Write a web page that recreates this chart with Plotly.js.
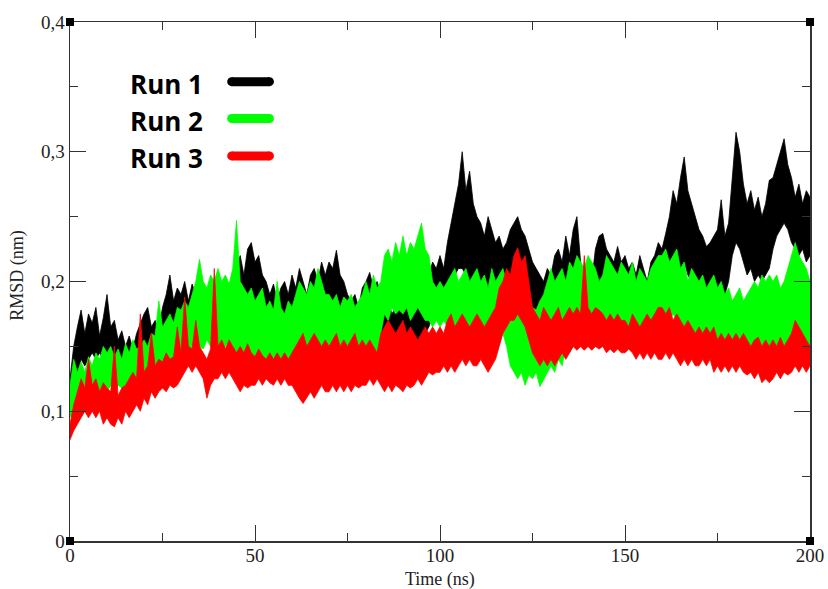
<!DOCTYPE html>
<html>
<head>
<meta charset="utf-8">
<script src="https://cdn.plot.ly/plotly-3.0.1.min.js"></script>
<style>html,body{margin:0;padding:0;background:#fff;}#chart{width:828px;height:589px;}</style>
</head>
<body>
<div id="chart"></div>
<script>
// Envelope values (upper / lower edge of each noisy RMSD band), one sample per ns, 0..200 ns
const run1Hi = [
.125,.15,.165,.178,.16,.175,.168,.18,.158,.172,
.19,.165,.17,.155,.162,.15,.158,.148,.16,.168,
.175,.18,.165,.17,.162,.18,.19,.205,.185,.195,
.19,.2,.185,.198,.19,.2,.185,.195,.18,.19,
.185,.195,.18,.19,.2,.21,.22,.205,.225,.23,
.215,.22,.205,.2,.19,.198,.185,.195,.2,.19,
.205,.195,.21,.2,.19,.205,.21,.2,.215,.205,
.215,.21,.224,.205,.2,.19,.185,.19,.18,.195,
.2,.207,.195,.2,.19,.18,.185,.175,.18,.185,
.18,.185,.19,.18,.195,.19,.2,.205,.215,.21,
.22,.21,.23,.245,.26,.275,.3,.27,.285,.26,
.25,.245,.235,.25,.24,.23,.235,.225,.23,.24,
.245,.25,.24,.235,.225,.215,.21,.205,.2,.21,
.205,.22,.225,.215,.235,.22,.24,.25,.215,.205,
.21,.2,.225,.235,.237,.225,.22,.215,.227,.215,
.22,.21,.215,.205,.22,.21,.2,.215,.22,.23,
.225,.237,.25,.27,.26,.28,.296,.27,.26,.25,
.24,.235,.227,.23,.235,.24,.263,.235,.245,.28,
.315,.3,.275,.26,.27,.255,.265,.25,.26,.278,
.28,.29,.3,.31,.29,.28,.265,.275,.26,.27,.265];
const run1Lo = [
.1,.11,.13,.14,.135,.14,.145,.14,.145,.14,
.14,.145,.14,.135,.13,.135,.13,.14,.14,.145,
.145,.15,.145,.14,.145,.15,.155,.16,.155,.16,
.16,.165,.16,.155,.16,.165,.16,.165,.16,.165,
.16,.165,.17,.165,.17,.175,.17,.18,.175,.17,
.165,.17,.165,.16,.165,.16,.165,.17,.165,.17,
.165,.17,.165,.16,.165,.17,.165,.16,.165,.17,
.17,.175,.17,.165,.16,.165,.16,.155,.16,.165,
.16,.165,.16,.155,.15,.15,.145,.15,.145,.15,
.15,.145,.15,.155,.15,.155,.16,.165,.175,.18,
.185,.19,.195,.2,.205,.21,.21,.205,.2,.2,
.195,.195,.19,.195,.19,.185,.19,.185,.19,.195,
.2,.195,.19,.185,.18,.175,.17,.17,.165,.17,
.17,.175,.18,.175,.185,.18,.19,.185,.18,.175,
.175,.17,.18,.185,.185,.18,.175,.175,.18,.175,
.175,.17,.175,.17,.175,.17,.165,.17,.175,.18,
.185,.19,.2,.205,.21,.21,.215,.205,.2,.195,
.19,.185,.185,.18,.185,.19,.195,.19,.2,.22,
.23,.225,.215,.205,.21,.2,.205,.2,.205,.21,
.225,.235,.24,.245,.24,.23,.225,.22,.225,.215,.22];
const run2Hi = [
.12,.14,.13,.138,.13,.142,.135,.145,.14,.15,
.145,.15,.142,.148,.14,.152,.145,.155,.148,.15,
.155,.15,.16,.158,.185,.165,.17,.175,.168,.18,
.178,.185,.18,.19,.2,.217,.2,.195,.205,.2,
.21,.2,.205,.198,.21,.247,.2,.195,.19,.195,
.185,.19,.195,.18,.185,.178,.2,.18,.175,.185,
.18,.19,.2,.195,.19,.2,.195,.21,.2,.19,
.19,.185,.19,.18,.188,.185,.19,.18,.185,.19,
.2,.19,.205,.195,.2,.22,.225,.215,.23,.22,
.235,.22,.23,.225,.235,.245,.225,.22,.2,.195,
.2,.195,.2,.205,.21,.2,.205,.21,.2,.205,
.21,.2,.205,.195,.21,.2,.205,.21,.2,.19,
.18,.175,.18,.17,.175,.18,.178,.185,.19,.2,
.21,.2,.205,.21,.2,.215,.21,.22,.215,.21,
.22,.215,.21,.2,.205,.22,.215,.21,.205,.215,
.21,.205,.215,.2,.21,.205,.2,.21,.215,.22,
.22,.225,.215,.22,.225,.21,.215,.2,.21,.205,
.2,.205,.195,.2,.205,.195,.2,.19,.195,.185,
.19,.195,.185,.19,.195,.2,.195,.205,.2,.205,
.2,.205,.195,.2,.21,.22,.23,.22,.215,.21,.2];
const run2Lo = [
.095,.1,.105,.11,.105,.11,.115,.11,.115,.11,
.115,.12,.115,.12,.118,.12,.125,.12,.125,.13,
.125,.13,.128,.13,.132,.135,.13,.135,.14,.138,
.14,.145,.14,.15,.145,.15,.148,.155,.15,.145,
.15,.145,.15,.155,.15,.14,.145,.14,.145,.14,
.135,.14,.138,.135,.14,.13,.135,.14,.135,.138,
.14,.145,.15,.145,.15,.145,.14,.145,.15,.148,
.15,.148,.152,.15,.155,.15,.148,.152,.15,.14,
.13,.135,.13,.14,.16,.175,.17,.18,.175,.178,
.175,.18,.17,.175,.18,.175,.17,.17,.165,.17,
.165,.17,.165,.16,.165,.16,.165,.17,.165,.16,
.165,.16,.165,.16,.165,.16,.155,.16,.15,.135,
.13,.125,.13,.12,.128,.125,.13,.119,.125,.13,
.135,.13,.14,.135,.15,.145,.15,.155,.16,.155,
.16,.155,.16,.165,.16,.165,.16,.165,.16,.165,
.16,.165,.16,.165,.16,.165,.16,.165,.17,.165,
.17,.175,.17,.175,.17,.165,.16,.155,.16,.155,
.15,.155,.15,.155,.15,.148,.15,.145,.15,.145,
.148,.145,.15,.145,.148,.15,.155,.15,.155,.15,
.155,.15,.148,.15,.145,.14,.135,.14,.135,.14,.145];
const run3Hi = [
.09,.105,.115,.125,.118,.14,.12,.125,.115,.122,
.118,.115,.15,.112,.118,.12,.125,.13,.125,.175,
.13,.135,.16,.135,.14,.138,.145,.14,.142,.165,
.145,.188,.15,.148,.17,.15,.145,.14,.148,.21,
.15,.155,.148,.155,.15,.145,.15,.145,.152,.145,
.142,.148,.143,.14,.145,.14,.145,.14,.145,.14,
.145,.15,.155,.16,.15,.155,.16,.155,.15,.155,
.15,.155,.16,.15,.155,.15,.155,.16,.15,.155,
.15,.155,.15,.145,.16,.165,.17,.165,.16,.165,
.17,.16,.165,.16,.155,.16,.165,.16,.165,.16,
.165,.16,.17,.175,.165,.17,.175,.17,.165,.17,
.175,.17,.165,.17,.175,.18,.195,.2,.21,.205,
.22,.226,.215,.22,.2,.18,.175,.17,.18,.175,
.17,.175,.18,.17,.175,.18,.175,.18,.175,.22,
.18,.175,.18,.178,.175,.17,.175,.17,.175,.17,
.17,.165,.175,.17,.165,.17,.175,.17,.175,.18,
.18,.175,.18,.17,.175,.17,.165,.17,.165,.16,
.165,.16,.165,.16,.165,.155,.16,.155,.16,.155,
.16,.155,.16,.155,.15,.155,.157,.15,.155,.15,
.155,.15,.157,.15,.155,.16,.17,.165,.16,.155,.15];
const run3Lo = [
.078,.085,.09,.095,.1,.095,.1,.095,.1,.09,
.095,.09,.088,.095,.09,.1,.095,.1,.105,.1,
.11,.105,.115,.11,.115,.118,.115,.12,.118,.12,
.125,.13,.135,.13,.135,.13,.125,.11,.12,.125,
.125,.13,.125,.13,.125,.12,.115,.12,.118,.12,
.12,.125,.12,.125,.122,.12,.125,.12,.125,.12,
.12,.115,.11,.106,.11,.115,.11,.115,.12,.115,
.115,.12,.115,.12,.115,.12,.115,.12,.118,.12,
.12,.125,.12,.125,.12,.115,.12,.115,.12,.118,
.115,.12,.118,.12,.125,.12,.125,.13,.128,.13,
.13,.135,.13,.135,.13,.135,.14,.135,.14,.135,
.135,.14,.135,.13,.135,.14,.15,.16,.165,.17,
.17,.175,.17,.165,.155,.145,.14,.135,.14,.135,
.14,.135,.14,.145,.14,.145,.15,.147,.15,.147,
.15,.147,.15,.148,.15,.145,.148,.145,.148,.145,
.145,.148,.145,.14,.145,.14,.145,.14,.145,.14,
.14,.145,.14,.145,.14,.135,.14,.135,.14,.135,
.135,.14,.135,.14,.13,.135,.13,.135,.13,.135,
.13,.135,.13,.128,.13,.125,.13,.122,.125,.122,
.125,.13,.125,.13,.128,.13,.135,.13,.135,.13,.135];

const seriesNames = ['Run 1', 'Run 2', 'Run 3'];
const seriesColors = ['#000000', '#00ff00', '#ff0000'];
const yTickVals = [0, 0.1, 0.2, 0.3, 0.4];
const xTickVals = [0, 50, 100, 150, 200];

const time = run1Hi.map((_, i) => i); // ns, one sample per ns

function band(hi, lo, name, color) {
  const x = time.concat(time.slice().reverse());
  const y = hi.concat(lo.slice().reverse());
  return {
    x: x, y: y, name: name, type: 'scatter', mode: 'lines',
    fill: 'toself', fillcolor: color,
    line: {color: color, width: 0.8},
    hoverinfo: 'skip', showlegend: false
  };
}

const data = [
  band(run1Hi, run1Lo, seriesNames[0], seriesColors[0]),
  band(run2Hi, run2Lo, seriesNames[1], seriesColors[1]),
  band(run3Hi, run3Lo, seriesNames[2], seriesColors[2])
];

const axisCol = '#333';
const serif = 'Liberation Serif, Times New Roman, serif';
const tickFont = {family: serif, size: 19, color: '#222'};

// Legend drawn as text + rounded swatches (text left, swatch right like the reference)
const legendY = [0.881, 0.81, 0.738];
const annotations = seriesNames.map((n, i) => ({
  xref: 'paper', yref: 'paper', x: 0.078, y: legendY[i], xanchor: 'left', yanchor: 'middle',
  text: '<b>' + n + '</b>', showarrow: false,
  font: {family: 'Open Sans, Noto Sans, sans-serif', size: 26, color: '#000'}
}));
annotations.push({xref: 'paper', yref: 'paper', x: 0.5, y: -0.0735, xanchor: 'center', yanchor: 'middle',
  text: 'Time (ns)', showarrow: false, font: {family: serif, size: 18, color: '#222'}});
annotations.push({xref: 'paper', yref: 'paper', x: -0.071, y: 0.512, xanchor: 'center', yanchor: 'middle',
  textangle: -90, text: 'RMSD (nm)', showarrow: false, font: {family: serif, size: 18, color: '#222'}});

const shapes = [];
seriesColors.forEach((c, i) => {
  const yy = legendY[i] + 0.004;
  shapes.push({type: 'line', xref: 'paper', yref: 'paper', x0: 0.2185, x1: 0.2695, y0: yy, y1: yy,
    line: {color: c, width: 9}});
  [0.2185, 0.2695].forEach(xc => shapes.push({type: 'circle', xref: 'paper', yref: 'paper',
    xsizemode: 'pixel', ysizemode: 'pixel', xanchor: xc, yanchor: yy,
    x0: -4.5, x1: 4.5, y0: -4.5, y1: 4.5, fillcolor: c, line: {width: 0}}));
});
// corner markers
[[0, 0], [1, 0], [0, 1], [1, 1]].forEach(p => shapes.push({type: 'rect', xref: 'paper', yref: 'paper',
  xsizemode: 'pixel', ysizemode: 'pixel', xanchor: p[0], yanchor: p[1],
  x0: -4, x1: 4, y0: -4, y1: 4, fillcolor: '#000', line: {width: 0}}));

const layout = {
  width: 828, height: 589,
  margin: {l: 70, r: 18, t: 22, b: 48},
  paper_bgcolor: '#fff', plot_bgcolor: '#fff',
  separators: ',.',
  showlegend: false,
  xaxis: {
    range: [0, 200], tickvals: xTickVals, ticks: 'inside', ticklen: 16, tickwidth: 1, tickcolor: axisCol,
    minor: {dtick: 25, ticks: 'inside', ticklen: 8, tickcolor: axisCol, showgrid: false},
    showline: true, linecolor: axisCol, linewidth: 1.5, mirror: 'allticks',
    showgrid: false, zeroline: false, tickfont: tickFont, ticklabelstandoff: -3
  },
  yaxis: {
    range: [0, 0.4], tickvals: yTickVals, ticks: 'inside', ticklen: 16, tickwidth: 1, tickcolor: axisCol,
    minor: {dtick: 0.05, ticks: 'inside', ticklen: 8, tickcolor: axisCol, showgrid: false},
    showline: true, linecolor: axisCol, linewidth: 1.5, mirror: 'allticks',
    showgrid: false, zeroline: false, tickfont: tickFont
  },
  annotations: annotations,
  shapes: shapes
};

Plotly.newPlot('chart', data, layout, {displayModeBar: false, staticPlot: true});
</script>
</body>
</html>
